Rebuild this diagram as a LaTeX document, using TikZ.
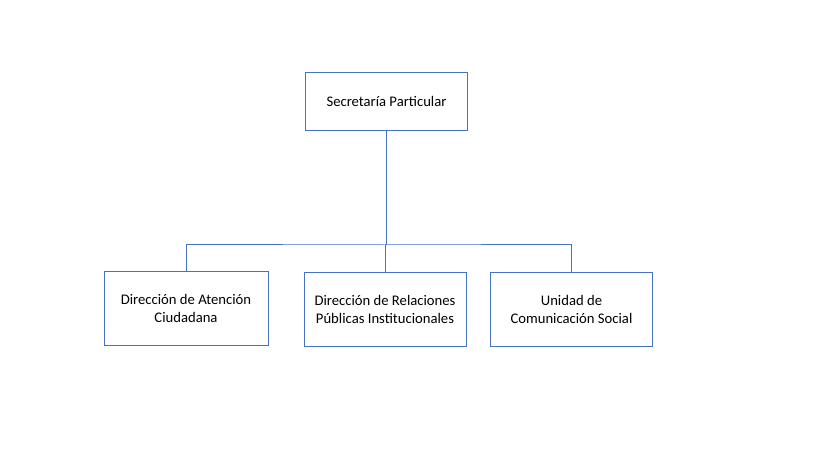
\documentclass[tikz,border=0pt]{standalone}
\usepackage{fontspec}
\setmainfont{Carlito}
\usepackage{tikz}
\usetikzlibrary{positioning}
\definecolor{BoxLine}{HTML}{4472C4}

\tikzset{
  orgbox/.style={draw=BoxLine, line width=0.75pt, fill=white, align=center,
    font=\fontsize{11}{13.5}\selectfont, inner sep=0pt},
  orgline/.style={draw=BoxLine, line width=0.75pt}
}

\begin{document}
\begin{tikzpicture}[x=0.75pt, y=-0.75pt]
    \useasboundingbox (0,0) rectangle (819,460);
    \node[orgbox, minimum width=122pt, minimum height=44pt] (sec) at (386.5,101.5)
    {Secretaría Particular};
    \node[orgbox, minimum width=123pt, minimum height=55pt] (ate) at (186,308.5)
    {Dirección de Atención\\Ciudadana};
    \node[orgbox, minimum width=121.5pt, minimum height=55pt] (rel) at (385,309.5)
    {Dirección de Relaciones\\Públicas Institucionales};
    \node[orgbox, minimum width=122pt, minimum height=55pt] (com) at (571.5,309.5)
    {Unidad de\\Comunicación Social};
    \coordinate (bus) at (385.5,245);
    \draw[orgline] (sec.south) -- (sec.south |- bus);
    \draw[orgline] (ate.north) |- (bus) -| (com.north);
    \draw[orgline] (bus) -| (rel.north);
  \end{tikzpicture}
\end{document}
